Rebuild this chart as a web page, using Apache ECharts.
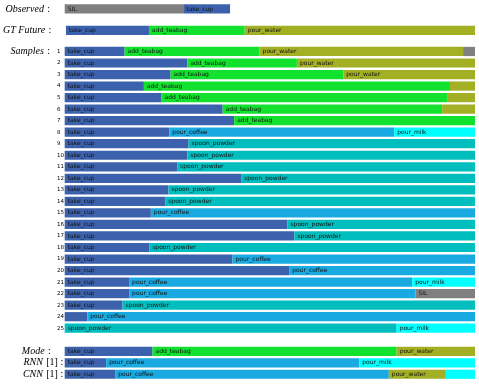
<!DOCTYPE html>
<html>
<head>
<meta charset="utf-8">
<script src="https://cdn.jsdelivr.net/npm/echarts@6/dist/echarts.min.js"></script>
<style>
  html, body { margin: 0; padding: 0; background: #fff; }
  #chart { width: 479px; height: 385px; }
</style>
</head>
<body>
<div id="chart"></div>
<script>
// segment actions per row and where each segment ends (percent of the time span)
const observedActions = [['SIL', 'take_cup']]
const observedEnds = [[28.9, 40.3]]

const gtActions = [['take_cup', 'add_teabag', 'pour_water']]
const gtEnds = [[20.3, 43.7, 100]]

const sampleLabels = ['1', '2', '3', '4', '5', '6', '7', '8', '9', '10', '11', '12', '13',
  '14', '15', '16', '17', '18', '19', '20', '21', '22', '23', '24', '25']
const sampleActions = [
  ['take_cup', 'add_teabag', 'pour_water', 'SIL'],
  ['take_cup', 'add_teabag', 'pour_water'],
  ['take_cup', 'add_teabag', 'pour_water'],
  ['take_cup', 'add_teabag', 'pour_water'],
  ['take_cup', 'add_teabag', 'pour_water'],
  ['take_cup', 'add_teabag', 'pour_water'],
  ['take_cup', 'add_teabag'],
  ['take_cup', 'pour_coffee', 'pour_milk'],
  ['take_cup', 'spoon_powder'],
  ['take_cup', 'spoon_powder'],
  ['take_cup', 'spoon_powder'],
  ['take_cup', 'spoon_powder'],
  ['take_cup', 'spoon_powder'],
  ['take_cup', 'spoon_powder'],
  ['take_cup', 'pour_coffee'],
  ['take_cup', 'spoon_powder'],
  ['take_cup', 'spoon_powder'],
  ['take_cup', 'spoon_powder'],
  ['take_cup', 'pour_coffee'],
  ['take_cup', 'pour_coffee'],
  ['take_cup', 'pour_coffee', 'pour_milk'],
  ['take_cup', 'pour_coffee', 'SIL'],
  ['take_cup', 'spoon_powder'],
  ['take_cup', 'pour_coffee'],
  ['spoon_powder', 'pour_milk']
]
const sampleEnds = [
  [14.6, 47.5, 97.1, 100],
  [29.9, 56.6, 100],
  [25.8, 67.9, 100],
  [19.3, 93.9, 100],
  [23.6, 93.2, 100],
  [38.5, 92.0, 100],
  [41.3, 100],
  [25.5, 80.3, 100],
  [30.2, 100],
  [29.9, 100],
  [27.4, 100],
  [43.0, 100],
  [25.3, 100],
  [24.5, 100],
  [21.0, 100],
  [54.3, 100],
  [56.0, 100],
  [20.6, 100],
  [40.9, 100],
  [54.7, 100],
  [15.7, 84.7, 100],
  [15.7, 85.5, 100],
  [14.1, 100],
  [5.5, 100],
  [80.9, 100]
]

const methodNames = ['Mode', 'RNN', 'CNN']
const methodActions = [
  ['take_cup', 'add_teabag', 'pour_water'],
  ['take_cup', 'pour_coffee', 'pour_milk'],
  ['take_cup', 'pour_coffee', 'pour_water', 'pour_milk']
]
const methodEnds = [
  [21.4, 80.9, 100],
  [10.1, 71.8, 100],
  [12.3, 79.0, 92.9, 100]
]

const actionColor = {
  SIL: '#808080',
  take_cup: '#3c62ad',
  add_teabag: '#12e22e',
  pour_water: '#a3b023',
  pour_coffee: '#1aaae2',
  pour_milk: '#00ffff',
  spoon_powder: '#00bebe'
}

const chart = echarts.init(document.getElementById('chart'))

function toItems (actionsRows, endsRows) {
  const items = []
  actionsRows.forEach((acts, r) => {
    let start = 0
    acts.forEach((a, k) => {
      const end = endsRows[r][k]
      items.push({ name: a, value: [start, end, r] })
      start = end
    })
  })
  return items
}

function makeRender (items) {
  return function (params, api) {
    const row = api.value(2)
    const p0 = api.coord([api.value(0), row])
    const p1 = api.coord([api.value(1), row])
    const h = api.size([0, 1])[1] * 0.8
    const w = p1[0] - p0[0]
    const act = items[params.dataIndex].name
    const children = [{
      type: 'rect',
      shape: { x: p0[0], y: p0[1] - h / 2, width: w, height: h },
      style: { fill: actionColor[act] }
    }]
    // 太窄的段不写名字
    if (w > 40) {
      children.push({
        type: 'text',
        x: p0[0] + 3,
        y: p0[1],
        style: {
          text: act,
          fontSize: 6,
          fontFamily: 'DejaVu Sans',
          fill: '#111',
          verticalAlign: 'middle'
        }
      })
    }
    return { type: 'group', children: children }
  }
}

const titleRich = {
  i: { fontFamily: 'Liberation Serif', fontStyle: 'italic', fontSize: 10, color: '#000' },
  r: { fontFamily: 'Liberation Serif', fontSize: 10, color: '#000' },
  rm: { fontFamily: 'Liberation Serif', fontSize: 10, color: '#000', padding: [0, 12.5, 0, 0] }
}

const grids = [
  { left: 64.7, right: 4, top: 3.2, height: 11.5 },
  { left: 64.7, right: 4, top: 24.7, height: 11.5 },
  { left: 64.7, right: 4, top: 45.7, height: 288.3 },
  { left: 64.7, right: 4, top: 345.6, height: 34.4 }
]

const rowsPerGrid = [
  toItems(observedActions, observedEnds),
  toItems(gtActions, gtEnds),
  toItems(sampleActions, sampleEnds),
  toItems(methodActions, methodEnds)
]

const yAxes = [
  {
    data: ['Observed'],
    axisLabel: { margin: 14.7, rich: titleRich, formatter: v => '{i|' + v + '} {r|:}' }
  },
  {
    data: ['GT Future'],
    axisLabel: { margin: 14.7, rich: titleRich, formatter: v => '{i|' + v + '} {r|:}' }
  },
  {
    data: sampleLabels,
    axisLabel: { margin: 7.7, align: 'left', fontSize: 5.5, fontFamily: 'DejaVu Sans', color: '#000' }
  },
  {
    data: methodNames,
    axisLabel: {
      margin: 1.5,
      rich: titleRich,
      formatter: v => v === 'Mode' ? '{i|Mode} {rm|:}' : '{i|' + v + '} {r|[1] :}'
    }
  }
].map((y, i) => {
  y.axisLabel.interval = 0
  y.axisLabel.hideOverlap = false
  return Object.assign({
    type: 'category',
    gridIndex: i,
    inverse: true,
    axisLine: { show: false },
    axisTick: { show: false },
    splitLine: { show: false }
  }, y)
})

const option = {
  animation: false,
  grid: grids,
  xAxis: grids.map((g, i) => ({ type: 'value', gridIndex: i, min: 0, max: 100, show: false })),
  yAxis: yAxes,
  graphic: [{
    type: 'text',
    right: 479 - 50,
    top: 45.5,
    style: {
      text: '{i|Samples} {r|:}',
      rich: titleRich
    }
  }],
  series: rowsPerGrid.map((items, i) => ({
    type: 'custom',
    xAxisIndex: i,
    yAxisIndex: i,
    encode: { x: [0, 1], y: 2 },
    renderItem: makeRender(items),
    data: items
  }))
}

chart.setOption(option)
</script>
</body>
</html>
